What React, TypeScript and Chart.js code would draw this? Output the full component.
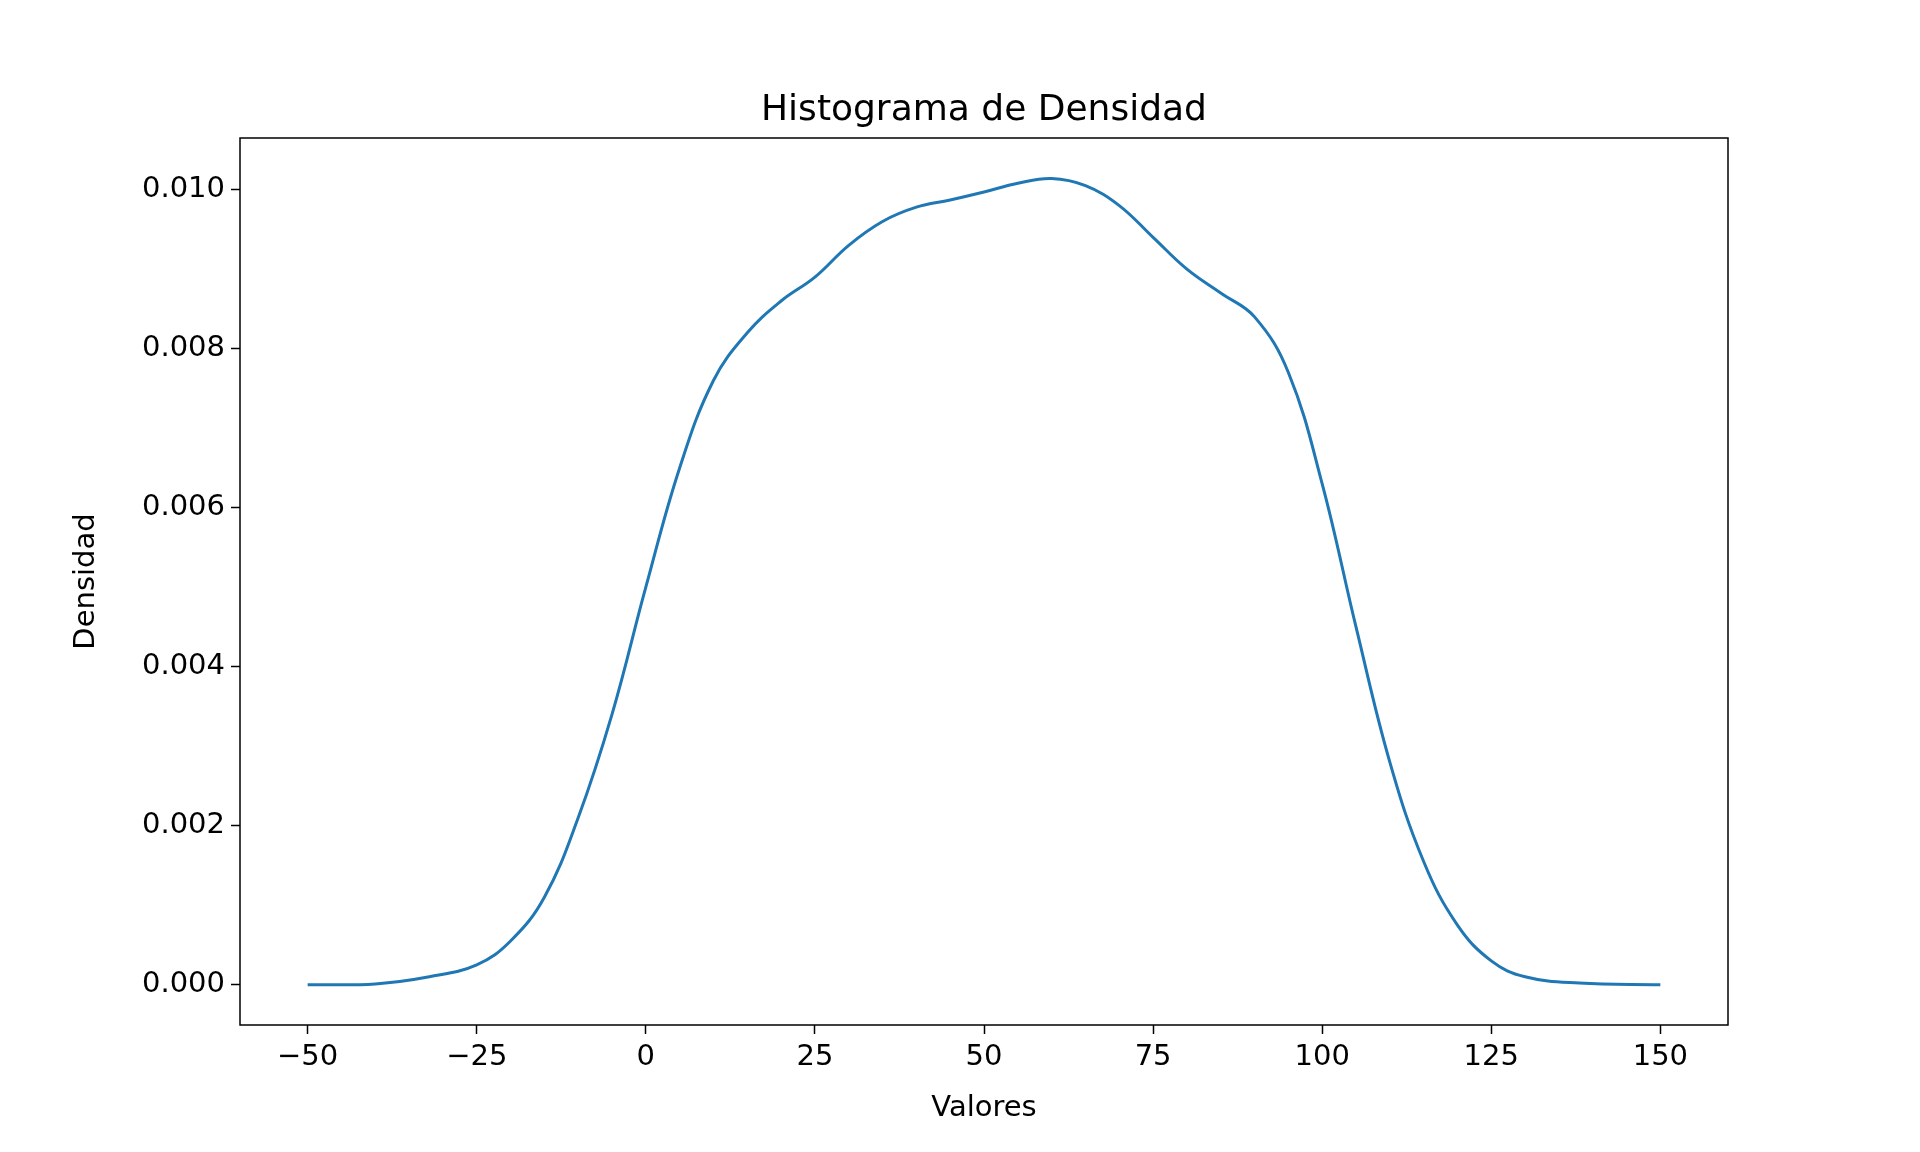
import React, { useEffect, useRef } from "react";
import { Chart, registerables } from "chart.js";
Chart.register(...registerables);

const xs = [-50, -40, -32, -25, -20, -15, -10, -5, 0, 5, 10, 15, 20, 25, 30, 35, 40, 45, 50, 55, 60, 65, 70, 75, 80, 85, 90, 95, 100, 105, 110, 115, 120, 125, 130, 138, 150];
const ys = [0, 0.00001, 0.0001, 0.00025, 0.00055, 0.0011, 0.0021, 0.0034, 0.005, 0.0065, 0.0076, 0.0082, 0.0086, 0.0089, 0.0093, 0.0096, 0.00978, 0.00987, 0.00997, 0.01008, 0.01014, 0.01005, 0.0098, 0.0094, 0.0090, 0.0087, 0.0084, 0.0077, 0.0063, 0.0045, 0.0028, 0.00155, 0.00075, 0.0003, 0.0001, 0.00002, 0];
const xTicks = [-50, -25, 0, 25, 50, 75, 100, 125, 150];
const yTicks = [0, 0.002, 0.004, 0.006, 0.008, 0.01];

const FONT = "'DejaVu Sans', sans-serif";

export default function App() {
  const ref = useRef<HTMLCanvasElement>(null);
  useEffect(() => {
    const frame = {
      id: "frame",
      afterDraw(c: any) {
        const { ctx, chartArea: a } = c;
        ctx.save();
        ctx.strokeStyle = "#000";
        ctx.lineWidth = 1.5;
        ctx.strokeRect(a.left, a.top, a.right - a.left, a.bottom - a.top);
        ctx.fillStyle = "#000";
        ctx.textAlign = "center";
        ctx.textBaseline = "alphabetic";
        ctx.font = `36px ${FONT}`;
        ctx.fillText("Histograma de Densidad", (a.left + a.right) / 2, 120);
        ctx.font = `29px ${FONT}`;
        ctx.textBaseline = "middle";
        ctx.fillText("Valores", (a.left + a.right) / 2, 1108);
        ctx.translate(86, (a.top + a.bottom) / 2);
        ctx.rotate(-Math.PI / 2);
        ctx.fillText("Densidad", 0, 0);
        ctx.restore();
      },
    };
    const chart = new Chart(ref.current!, {
      type: "line",
      data: {
        datasets: [{
          data: xs.map((x, i) => ({ x, y: ys[i] })),
          borderColor: "#1f77b4",
          borderWidth: 3,
          pointRadius: 0,
          tension: 0.4,
        }],
      },
      options: {
        animation: false,
        responsive: false,
        layout: { padding: { top: 138, right: 192, left: 0, bottom: 0 } },
        plugins: { legend: { display: false }, tooltip: { enabled: false } },
        scales: {
          x: {
            type: "linear", min: -60, max: 160,
            afterBuildTicks: (s: any) => { s.ticks = xTicks.map((v) => ({ value: v })); },
            afterFit: (s: any) => { s.height = 127; },
            grid: { drawOnChartArea: false, tickLength: 9, color: "#000", tickWidth: 1.5 },
            border: { display: false },
            ticks: { color: "#000", font: { family: FONT, size: 29 }, maxRotation: 0, padding: 6,
              callback: (v: any) => (v < 0 ? "\u2212" + Math.abs(v) : String(v)) },
          },
          y: {
            min: -0.000507, max: 0.01065,
            afterBuildTicks: (s: any) => { s.ticks = yTicks.map((v) => ({ value: v })); },
            afterFit: (s: any) => { s.width = 240; },
            grid: { drawOnChartArea: false, tickLength: 9, color: "#000", tickWidth: 1.5 },
            border: { display: false },
            ticks: { color: "#000", font: { family: FONT, size: 29 }, padding: 6, callback: (v: any) => Number(v).toFixed(3) },
          },
        },
      },
      plugins: [frame],
    } as any);
    return () => chart.destroy();
  }, []);
  return (
    <div style={{ position: "fixed", left: 0, top: 0, width: 1920, height: 1152, background: "#fff" }}>
      <canvas ref={ref} width={1920} height={1152} style={{ width: 1920, height: 1152 }} />
    </div>
  );
}
